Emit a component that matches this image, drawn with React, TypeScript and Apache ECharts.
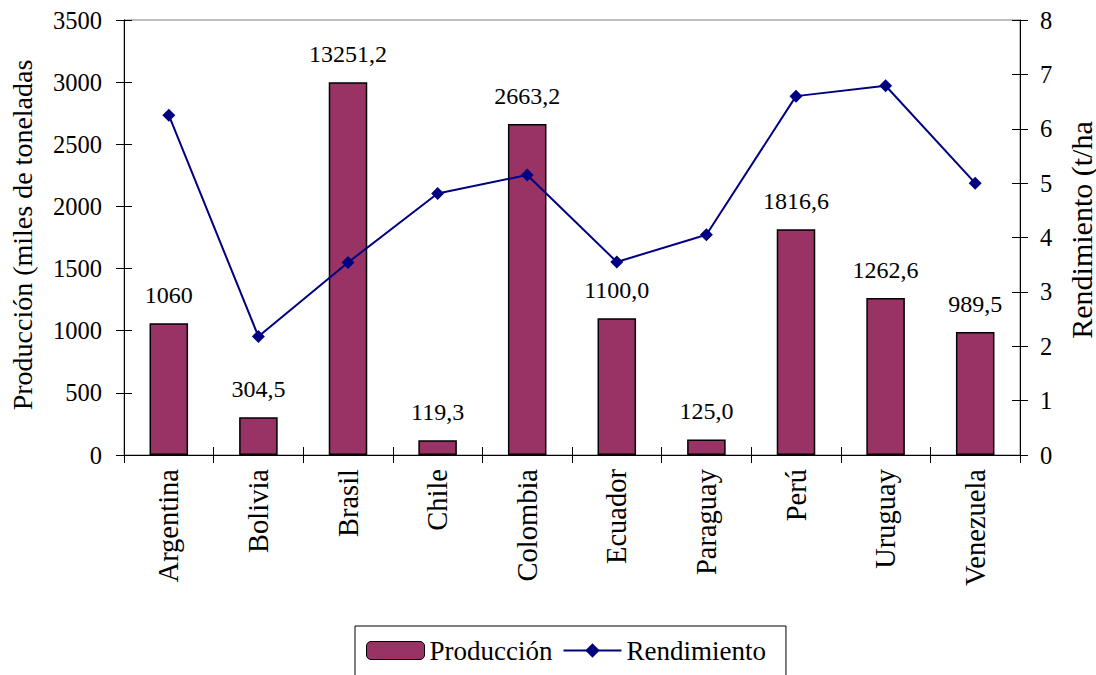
import React, { useEffect, useRef } from "react";
import * as echarts from "echarts";

const countries = ["Argentina", "Bolivia", "Brasil", "Chile", "Colombia", "Ecuador", "Paraguay", "Perú", "Uruguay", "Venezuela"];
const production = [1060, 304.5, 13251.2, 119.3, 2663.2, 1100.0, 125.0, 1816.6, 1262.6, 989.5];
const productionLabels = ["1060", "304,5", "13251,2", "119,3", "2663,2", "1100,0", "125,0", "1816,6", "1262,6", "989,5"];
const yieldValues = [6.25, 2.18, 3.54, 4.81, 5.15, 3.55, 4.05, 6.6, 6.79, 5.0];
const barCap = 3000; // Brasil bar drawn cut at 3000 as in the original
const leftTicks = { min: 0, max: 3500, interval: 500 };
const rightTicks = { min: 0, max: 8, interval: 1 };

const FONT = "Liberation Serif";

export default function App() {
  const ref = useRef<HTMLDivElement>(null);
  useEffect(() => {
    if (!ref.current) return;
    const chart = echarts.init(ref.current, null, { renderer: "svg" });
    const axisCommon = {
      axisLine: { show: true, lineStyle: { color: "#000", width: 1 } },
      splitLine: { show: false },
    };
    chart.setOption({
      animation: false,
      backgroundColor: "#fff",
      textStyle: { fontFamily: FONT, color: "#000" },
      grid: { left: 124, right: 76, top: 20, bottom: 220, show: true, borderColor: "#808080", borderWidth: 1 },
      legend: {
        left: 355,
        top: 626,
        orient: "horizontal",
        borderColor: "#000",
        borderWidth: 1,
        padding: [11, 20, 30, 11],
        itemGap: 10,
        itemWidth: 58,
        itemHeight: 18,
        textStyle: { fontFamily: FONT, fontSize: 27, color: "#000" },
        data: [
          { name: "Producción", itemStyle: { borderColor: "#000", borderWidth: 1 } },
          { name: "Rendimiento" },
        ],
      },
      xAxis: [
        {
          type: "category",
          data: countries,
          position: "bottom",
          ...axisCommon,
          axisTick: { show: true, length: 8, lineStyle: { color: "#000" } },
          axisLabel: { rotate: 90, fontFamily: FONT, fontSize: 28.5, color: "#000", margin: 14, interval: 0 },
        },
        {
          type: "category",
          data: countries,
          position: "bottom",
          axisLine: { show: false },
          axisTick: { show: true, inside: true, length: 8, lineStyle: { color: "#000" } },
          axisLabel: { show: false },
          splitLine: { show: false },
        },
      ],
      yAxis: [
        {
          type: "value",
          position: "left",
          ...leftTicks,
          ...axisCommon,
          axisTick: { show: true, length: 8, lineStyle: { color: "#000" } },
          axisLabel: { fontFamily: FONT, fontSize: 24.5, color: "#000", margin: 22, formatter: (v: number) => String(v) },
        },
        {
          type: "value",
          position: "right",
          ...rightTicks,
          ...axisCommon,
          axisTick: { show: true, length: 8, lineStyle: { color: "#000" } },
          axisLabel: { fontFamily: FONT, fontSize: 24.5, color: "#000", margin: 20, formatter: (v: number) => String(v) },
        },
        {
          type: "value",
          position: "left",
          ...leftTicks,
          axisLine: { show: false },
          axisTick: { show: true, inside: true, length: 8, lineStyle: { color: "#000" } },
          axisLabel: { show: false },
          splitLine: { show: false },
        },
        {
          type: "value",
          position: "right",
          ...rightTicks,
          axisLine: { show: false },
          axisTick: { show: true, inside: true, length: 8, lineStyle: { color: "#000" } },
          axisLabel: { show: false },
          splitLine: { show: false },
        },
      ],
      graphic: [
        {
          type: "text",
          x: 22,
          y: 235,
          rotation: Math.PI / 2,
          style: {
            text: "Producción (miles de toneladas",
            fontFamily: FONT,
            fontSize: 28,
            fill: "#000",
            align: "center",
            verticalAlign: "middle",
          },
        },
        {
          type: "text",
          x: 1081,
          y: 230,
          rotation: Math.PI / 2,
          style: {
            text: "Rendimiento (t/ha",
            fontFamily: FONT,
            fontSize: 30,
            fill: "#000",
            align: "center",
            verticalAlign: "middle",
          },
        },
      ],
      series: [
        {
          name: "Producción",
          type: "bar",
          xAxisIndex: 0,
          yAxisIndex: 0,
          barWidth: "43%",
          data: production.map((v) => Math.min(v, barCap)),
          itemStyle: { color: "#993366", borderColor: "#000", borderWidth: 1.5 },
          label: {
            show: true,
            position: "top",
            distance: 16,
            fontFamily: FONT,
            fontSize: 24,
            color: "#000",
            formatter: (p: any) => productionLabels[p.dataIndex],
          },
        },
        {
          name: "Rendimiento",
          type: "line",
          xAxisIndex: 0,
          yAxisIndex: 1,
          data: yieldValues,
          symbol: "diamond",
          symbolSize: 13,
          lineStyle: { color: "#000080", width: 2 },
          itemStyle: { color: "#000080" },
        },
      ],
    });
    return () => chart.dispose();
  }, []);
  return <div ref={ref} style={{ width: 1096, height: 675, position: "absolute", left: 0, top: 0 }} />;
}
